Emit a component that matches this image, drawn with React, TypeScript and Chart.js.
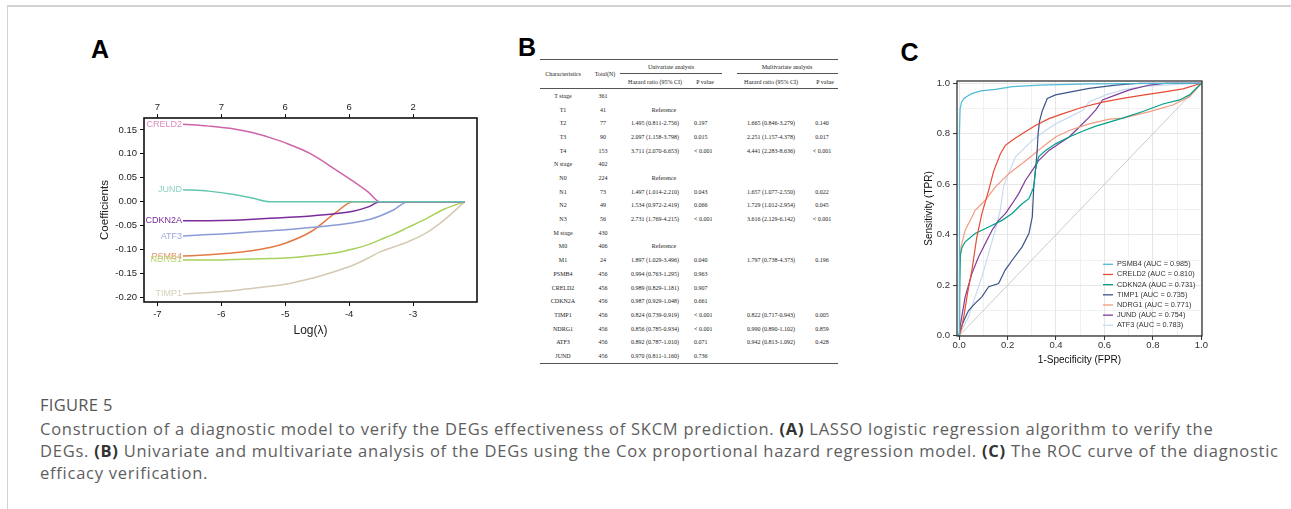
import React, { useEffect, useRef } from 'react';
import { Chart, registerables } from 'chart.js';
Chart.register(...registerables);

const SANS = "'Liberation Sans', Arial, sans-serif";
const SERIF = "'Liberation Serif', 'Times New Roman', serif";
const CAP = "'Open Sans', 'Noto Sans', sans-serif";

// ---------------- Panel A: LASSO coefficient paths ----------------
const lassoLogLambda = [-6.6, -6.2, -5.8, -5.5, -5.24, -5.0, -4.6, -4.2, -3.94, -3.7, -3.52, -3.3, -3.08, -2.8, -2.5, -2.19];
const coefJUND = [0.025, 0.022, 0.015, 0.007, 0, 0, 0, 0, 0, 0, 0, 0, 0, 0, 0, 0];
const coefCRELD2 = [0.162, 0.158, 0.152, 0.144, 0.134, 0.123, 0.100, 0.066, 0.043, 0.020, 0, 0, 0, 0, 0, 0];
const coefCDKN2A = [-0.040, -0.040, -0.039, -0.037, -0.035, -0.033, -0.030, -0.025, -0.020, -0.011, 0, 0, 0, 0, 0, 0];
const coefATF3 = [-0.072, -0.069, -0.066, -0.063, -0.061, -0.059, -0.054, -0.049, -0.044, -0.038, -0.030, -0.017, 0, 0, 0, 0];
const coefPSMB4 = [-0.114, -0.111, -0.107, -0.102, -0.096, -0.087, -0.063, -0.022, 0, 0, 0, 0, 0, 0, 0, 0];
const coefNDRG1 = [-0.122, -0.122, -0.121, -0.120, -0.119, -0.118, -0.113, -0.107, -0.099, -0.090, -0.080, -0.068, -0.054, -0.036, -0.015, 0];
const coefTIMP1 = [-0.193, -0.190, -0.186, -0.181, -0.177, -0.173, -0.161, -0.145, -0.133, -0.118, -0.105, -0.095, -0.084, -0.066, -0.037, 0];
const lassoGenes = ['JUND', 'CRELD2', 'CDKN2A', 'ATF3', 'PSMB4', 'NDRG1', 'TIMP1'];
const lassoCoefs = [coefJUND, coefCRELD2, coefCDKN2A, coefATF3, coefPSMB4, coefNDRG1, coefTIMP1];
const lassoLineColors = ['#62c6b0', '#cf63a9', '#7a2c9c', '#8b9bd6', '#e27a43', '#a8d05a', '#d5c9b2'];
const lassoLabelColors = ['#8ad5c3', '#d98bbf', '#7a2c9c', '#9ba9dc', '#e6996b', '#b7d877', '#d9cfbc'];
const lassoXTicks = [-7, -6, -5, -4, -3];
const lassoTopLabels = ['7', '7', '6', '6', '2'];
const lassoYTicks = [0.15, 0.10, 0.05, 0.0, -0.05, -0.10, -0.15, -0.20];

// ---------------- Panel B: Cox table ----------------
const characteristics = ['T stage', 'T1', 'T2', 'T3', 'T4', 'N stage', 'N0', 'N1', 'N2', 'N3', 'M stage', 'M0', 'M1', 'PSMB4', 'CRELD2', 'CDKN2A', 'TIMP1', 'NDRG1', 'ATF3', 'JUND'];
const totals = ['361', '41', '77', '90', '153', '402', '224', '73', '49', '56', '430', '406', '24', '456', '456', '456', '456', '456', '456', '456'];
const uniHR = ['', 'Reference', '1.495 (0.811-2.756)', '2.097 (1.158-3.798)', '3.711 (2.070-6.653)', '', 'Reference', '1.497 (1.014-2.210)', '1.534 (0.972-2.419)', '2.731 (1.769-4.215)', '', 'Reference', '1.897 (1.029-3.496)', '0.994 (0.763-1.295)', '0.989 (0.829-1.181)', '0.987 (0.929-1.048)', '0.824 (0.739-0.919)', '0.856 (0.785-0.934)', '0.892 (0.787-1.010)', '0.970 (0.811-1.160)'];
const uniP = ['', '', '0.197', '0.015', '< 0.001', '', '', '0.043', '0.066', '< 0.001', '', '', '0.040', '0.963', '0.907', '0.661', '< 0.001', '< 0.001', '0.071', '0.736'];
const multiHR = ['', '', '1.665 (0.846-3.279)', '2.251 (1.157-4.378)', '4.441 (2.283-8.636)', '', '', '1.657 (1.077-2.550)', '1.729 (1.012-2.954)', '3.616 (2.129-6.142)', '', '', '1.797 (0.738-4.373)', '', '', '', '0.822 (0.717-0.943)', '0.990 (0.890-1.102)', '0.942 (0.813-1.092)', ''];
const multiP = ['', '', '0.140', '0.017', '< 0.001', '', '', '0.022', '0.045', '< 0.001', '', '', '0.196', '', '', '', '0.005', '0.859', '0.428', ''];

// ---------------- Panel C: ROC curves ----------------
const rocGenes = ['PSMB4', 'CRELD2', 'CDKN2A', 'TIMP1', 'NDRG1', 'JUND', 'ATF3'];
const rocAUC = ['0.985', '0.810', '0.731', '0.735', '0.771', '0.754', '0.783'];
const rocColors = ['#4DBBD5', '#E64B35', '#00A087', '#3C5488', '#F39B7F', '#7E3B9A', '#C6DBEF'];
const fprPSMB4 = [0, 0.001, 0.002, 0.004, 0.010, 0.020, 0.035, 0.055, 0.090, 0.150, 0.220, 0.330, 0.540, 1.0];
const tprPSMB4 = [0, 0.45, 0.80, 0.90, 0.925, 0.940, 0.950, 0.960, 0.970, 0.976, 0.987, 0.993, 0.998, 1.0];
const fprCRELD2 = [0, 0.010, 0.020, 0.035, 0.053, 0.073, 0.094, 0.122, 0.142, 0.170, 0.191, 0.219, 0.260, 0.315, 0.371, 0.426, 0.509, 0.592, 0.675, 0.758, 0.841, 0.924, 1.0];
const tprCRELD2 = [0, 0.030, 0.080, 0.170, 0.260, 0.390, 0.484, 0.576, 0.650, 0.720, 0.754, 0.774, 0.800, 0.833, 0.860, 0.879, 0.905, 0.925, 0.940, 0.953, 0.965, 0.978, 1.0];
const fprCDKN2A = [0, 0.002, 0.005, 0.012, 0.025, 0.066, 0.122, 0.177, 0.219, 0.260, 0.288, 0.308, 0.315, 0.322, 0.329, 0.357, 0.398, 0.454, 0.509, 0.564, 0.606, 0.675, 0.758, 0.841, 0.910, 0.951, 1.0];
const tprCDKN2A = [0, 0.150, 0.320, 0.350, 0.372, 0.405, 0.431, 0.457, 0.484, 0.523, 0.543, 0.589, 0.655, 0.690, 0.710, 0.734, 0.760, 0.787, 0.810, 0.830, 0.842, 0.862, 0.888, 0.918, 0.934, 0.954, 1.0];
const fprTIMP1 = [0, 0.004, 0.020, 0.039, 0.066, 0.094, 0.122, 0.163, 0.190, 0.219, 0.260, 0.288, 0.302, 0.308, 0.315, 0.322, 0.326, 0.332, 0.343, 0.364, 0.398, 0.467, 0.537, 0.647, 0.744, 1.0];
const tprTIMP1 = [0, 0.022, 0.060, 0.100, 0.128, 0.154, 0.194, 0.207, 0.260, 0.299, 0.352, 0.405, 0.471, 0.589, 0.655, 0.730, 0.800, 0.850, 0.890, 0.940, 0.954, 0.967, 0.980, 0.993, 1.0, 1.0];
const fprNDRG1 = [0, 0.0, 0.003, 0.008, 0.025, 0.053, 0.066, 0.080, 0.108, 0.149, 0.205, 0.260, 0.302, 0.343, 0.398, 0.454, 0.537, 0.620, 0.675, 0.786, 0.882, 0.951, 1.0];
const tprNDRG1 = [0, 0.120, 0.260, 0.352, 0.418, 0.470, 0.497, 0.510, 0.537, 0.589, 0.642, 0.682, 0.714, 0.747, 0.787, 0.813, 0.839, 0.858, 0.862, 0.888, 0.914, 0.947, 1.0];
const fprJUND = [0, 0.004, 0.025, 0.053, 0.080, 0.108, 0.136, 0.163, 0.191, 0.219, 0.246, 0.274, 0.302, 0.329, 0.371, 0.412, 0.454, 0.495, 0.537, 0.564, 0.592, 0.647, 0.703, 0.786, 0.855, 1.0];
const tprJUND = [0, 0.036, 0.154, 0.247, 0.312, 0.365, 0.418, 0.457, 0.484, 0.523, 0.563, 0.616, 0.655, 0.695, 0.734, 0.760, 0.787, 0.826, 0.866, 0.895, 0.934, 0.954, 0.974, 0.993, 1.0, 1.0];
const fprATF3 = [0, 0.011, 0.039, 0.066, 0.094, 0.122, 0.149, 0.170, 0.183, 0.198, 0.205, 0.232, 0.260, 0.302, 0.357, 0.398, 0.454, 0.509, 0.537, 0.606, 0.675, 0.758, 0.841, 1.0];
const tprATF3 = [0, 0.022, 0.075, 0.154, 0.233, 0.326, 0.418, 0.497, 0.589, 0.630, 0.645, 0.708, 0.734, 0.774, 0.813, 0.839, 0.866, 0.892, 0.927, 0.954, 0.974, 0.987, 0.993, 1.0];
const rocFpr = [fprPSMB4, fprCRELD2, fprCDKN2A, fprTIMP1, fprNDRG1, fprJUND, fprATF3];
const rocTpr = [tprPSMB4, tprCRELD2, tprCDKN2A, tprTIMP1, tprNDRG1, tprJUND, tprATF3];
const rocTicks = [0, 0.1, 0.2, 0.3, 0.4, 0.5, 0.6, 0.7, 0.8, 0.9, 1.0];

// ---------------- plugins ----------------
const boxBorder = {
  id: 'boxBorder',
  afterDraw(chart: any, _a: any, opts: any) {
    const { ctx, chartArea } = chart;
    ctx.save();
    ctx.strokeStyle = opts.color || '#000';
    ctx.lineWidth = opts.width || 1;
    ctx.strokeRect(chartArea.left, chartArea.top, chartArea.right - chartArea.left, chartArea.bottom - chartArea.top);
    ctx.restore();
  },
};

const pathLabels = {
  id: 'pathLabels',
  afterDatasetsDraw(chart: any) {
    const { ctx } = chart;
    ctx.save();
    ctx.font = `9px ${SANS}`;
    ctx.textAlign = 'right';
    ctx.textBaseline = 'middle';
    chart.data.datasets.forEach((ds: any, i: number) => {
      const p = chart.getDatasetMeta(i).data[0];
      if (!p) return;
      ctx.fillStyle = ds.labelColor;
      ctx.fillText(ds.label, p.x - 1, p.y);
    });
    ctx.restore();
  },
};

const rocLegend = {
  id: 'rocLegend',
  afterDraw(chart: any) {
    const { ctx, chartArea } = chart;
    ctx.save();
    ctx.font = `7.3px ${SANS}`;
    ctx.textBaseline = 'middle';
    ctx.textAlign = 'left';
    rocGenes.forEach((g, i) => {
      const y = chartArea.bottom - 71.7 + i * 10.17;
      ctx.strokeStyle = rocColors[i];
      ctx.lineWidth = 1.3;
      ctx.beginPath();
      ctx.moveTo(chartArea.right - 99, y);
      ctx.lineTo(chartArea.right - 89, y);
      ctx.stroke();
      ctx.fillStyle = '#333';
      ctx.fillText(`${g} (AUC = ${rocAUC[i]})`, chartArea.right - 85, y);
    });
    ctx.restore();
  },
};

function setTicks(values: number[]) {
  return (scale: any) => {
    scale.ticks = values.map((v) => ({ value: v }));
  };
}

function ChartBox({ config, style }: { config: any; style: React.CSSProperties }) {
  const ref = useRef<HTMLCanvasElement | null>(null);
  useEffect(() => {
    if (!ref.current) return;
    const chart = new Chart(ref.current, config);
    return () => chart.destroy();
  }, []);
  return (
    <div style={{ position: 'absolute', ...style }}>
      <canvas ref={ref} style={{ display: 'block' }} />
    </div>
  );
}

function lassoConfig() {
  return {
    type: 'line',
    data: {
      datasets: lassoGenes.map((g, i) => ({
        label: g,
        labelColor: lassoLabelColors[i],
        data: lassoLogLambda.map((x, j) => ({ x, y: lassoCoefs[i][j] })),
        borderColor: lassoLineColors[i],
        borderWidth: 1.5,
        pointRadius: 0,
        cubicInterpolationMode: 'monotone',
        fill: false,
      })),
    },
    options: {
      animation: false,
      responsive: true,
      maintainAspectRatio: false,
      layout: { padding: { left: 0, right: 13, top: 0, bottom: 0 } },
      plugins: { legend: { display: false }, tooltip: { enabled: false }, boxBorder: { color: '#111', width: 1.6 } },
      scales: {
        x: {
          type: 'linear', position: 'bottom', min: -7.21, max: -2.0,
          afterBuildTicks: setTicks(lassoXTicks),
          afterFit: (s: any) => { s.height = 43; s.paddingLeft = 0; s.paddingRight = 0; },
          grid: { drawOnChartArea: false, drawTicks: true, tickLength: 4, color: '#111', lineWidth: 1 },
          border: { display: false },
          ticks: { color: '#222', font: { family: SANS, size: 9.5 }, padding: 3, autoSkip: false, maxRotation: 0, callback: (v: any) => String(v) },
          title: { display: true, text: 'Log(λ)', color: '#222', font: { family: SANS, size: 12 }, padding: { top: 0, bottom: 7 } },
        },
        xTop: {
          type: 'linear', position: 'top', min: -7.21, max: -2.0,
          afterBuildTicks: setTicks(lassoXTicks),
          afterFit: (s: any) => { s.height = 28; s.paddingLeft = 0; s.paddingRight = 0; },
          grid: { drawOnChartArea: false, drawTicks: true, tickLength: 4, color: '#111', lineWidth: 1 },
          border: { display: false },
          ticks: { color: '#222', font: { family: SANS, size: 9.5 }, padding: 1, autoSkip: false, maxRotation: 0, callback: (_v: any, i: number) => lassoTopLabels[i] },
        },
        y: {
          type: 'linear', position: 'left', min: -0.21, max: 0.175,
          afterBuildTicks: setTicks(lassoYTicks),
          afterFit: (s: any) => { s.width = 64; s.paddingTop = 0; s.paddingBottom = 0; },
          grid: { drawOnChartArea: false, drawTicks: true, tickLength: 4, color: '#111', lineWidth: 1 },
          border: { display: false },
          ticks: { color: '#222', font: { family: SANS, size: 9.5 }, padding: 3, autoSkip: false, callback: (v: any) => Number(v).toFixed(2) },
          title: { display: true, text: 'Coefficients', color: '#222', font: { family: SANS, size: 11.5 }, padding: { top: 18, bottom: 0 } },
        },
      },
    },
    plugins: [boxBorder, pathLabels],
  };
}

function rocConfig() {
  const isMajor = (v: number) => Math.round(v * 10) % 2 === 0;
  const gridOpts = {
    drawOnChartArea: true,
    drawTicks: true,
    tickLength: 4,
    color: '#e6e6e6',
    lineWidth: (c: any) => (c.tick && isMajor(c.tick.value) ? 1.1 : 0.6),
    tickColor: (c: any) => (c.tick && isMajor(c.tick.value) ? '#333' : 'rgba(0,0,0,0)'),
    tickWidth: 1,
  };
  const datasets: any[] = rocGenes.map((g, i) => ({
    label: g,
    data: rocFpr[i].map((x, j) => ({ x, y: rocTpr[i][j] })),
    borderColor: rocColors[i],
    borderWidth: 1.2,
    pointRadius: 0,
    tension: 0,
    fill: false,
  }));
  datasets.push({
    label: 'diag',
    data: [{ x: 0, y: 0 }, { x: 1, y: 1 }],
    borderColor: '#c4c4c4',
    borderWidth: 0.9,
    pointRadius: 0,
    fill: false,
    order: 10,
  });
  return {
    type: 'line',
    data: { datasets },
    options: {
      animation: false,
      responsive: true,
      maintainAspectRatio: false,
      layout: { padding: { left: 0, right: 13, top: 21, bottom: 0 } },
      plugins: { legend: { display: false }, tooltip: { enabled: false }, boxBorder: { color: '#222', width: 1.2 } },
      scales: {
        x: {
          type: 'linear', position: 'bottom', min: -0.0087, max: 1.0024,
          afterBuildTicks: setTicks(rocTicks),
          afterFit: (s: any) => { s.height = 39; s.paddingLeft = 0; s.paddingRight = 0; },
          grid: gridOpts,
          border: { display: false },
          ticks: { color: '#333', font: { family: SANS, size: 9.5 }, padding: 0, autoSkip: false, maxRotation: 0, callback: (v: any) => (isMajor(v) ? Number(v).toFixed(1) : '') },
          title: { display: true, text: '1-Specificity (FPR)', color: '#111', font: { family: SANS, size: 10 }, padding: { top: 0, bottom: 9 } },
        },
        y: {
          type: 'linear', position: 'left', min: -0.001, max: 1.009,
          afterBuildTicks: setTicks(rocTicks),
          afterFit: (s: any) => { s.width = 52; s.paddingTop = 0; s.paddingBottom = 0; },
          grid: gridOpts,
          border: { display: false },
          ticks: { color: '#333', font: { family: SANS, size: 9.5 }, padding: 3, autoSkip: false, callback: (v: any) => (isMajor(v) ? Number(v).toFixed(1) : '') },
          title: { display: true, text: 'Sensitivity (TPR)', color: '#111', font: { family: SANS, size: 10 }, padding: { top: 18, bottom: 0 } },
        },
      },
    },
    plugins: [boxBorder, rocLegend],
  };
}

// table layout helpers (positions only)
const rowY = (i: number) => 96 + i * 13.68;
const tcell = (text: string, x: number, y: number, align: 'center' | 'left' = 'center', key?: string) => (
  <div
    key={key}
    style={{
      position: 'absolute', left: x, top: y, fontFamily: SERIF, fontSize: 6, lineHeight: '7px', color: '#222',
      whiteSpace: 'nowrap', transform: align === 'center' ? 'translate(-50%, -50%)' : 'translate(0, -50%)',
    }}
  >
    {text}
  </div>
);
const rule = (x1: number, x2: number, y: number, key: string) => (
  <div key={key} style={{ position: 'absolute', left: x1, top: y, width: x2 - x1, height: 1, background: '#555' }} />
);

function Table() {
  const cells: React.ReactNode[] = [];
  characteristics.forEach((c, i) => {
    const y = rowY(i);
    cells.push(tcell(c, 563, y, 'center', 'c' + i));
    cells.push(tcell(totals[i], 603, y, 'center', 't' + i));
    if (uniHR[i]) cells.push(tcell(uniHR[i], uniHR[i] === 'Reference' ? 664 : 655, y, 'center', 'uh' + i));
    if (uniP[i]) cells.push(tcell(uniP[i], 694, y, 'left', 'up' + i));
    if (multiHR[i]) cells.push(tcell(multiHR[i], 771, y, 'center', 'mh' + i));
    if (multiP[i]) cells.push(tcell(multiP[i], 822, y, 'center', 'mp' + i));
  });
  return (
    <>
      {rule(540, 838, 59, 'r1')}
      {rule(620, 722, 73, 'r2')}
      {rule(737, 838, 73, 'r3')}
      {rule(540, 838, 88, 'r4')}
      {rule(540, 838, 363, 'r5')}
      {tcell('Characteristics', 563, 73.5, 'center', 'h1')}
      {tcell('Total(N)', 605, 73.5, 'center', 'h2')}
      {tcell('Univariate analysis', 671, 67.3, 'center', 'h3')}
      {tcell('Multivariate analysis', 787, 67.3, 'center', 'h4')}
      {tcell('Hazard ratio (95% CI)', 655, 81.7, 'center', 'h5')}
      {tcell('P value', 705, 81.7, 'center', 'h6')}
      {tcell('Hazard ratio (95% CI)', 771, 81.7, 'center', 'h7')}
      {tcell('P value', 825, 81.7, 'center', 'h8')}
      {cells}
    </>
  );
}

const panelLetter = (t: string, left: number, top: number) => (
  <div style={{ position: 'absolute', left, top, fontFamily: SANS, fontWeight: 700, fontSize: 25, lineHeight: '25px', color: '#000' }}>{t}</div>
);

export default function App() {
  return (
    <div style={{ position: 'fixed', left: 0, top: 0, width: 1291, height: 509, background: '#fff', overflow: 'hidden' }}>
      <div style={{ position: 'absolute', left: 7, top: 5, width: 1284, height: 1.5, background: '#d2d2d2' }} />
      <div style={{ position: 'absolute', left: 7, top: 5, width: 1, height: 504, background: '#d2d2d2' }} />
      {panelLetter('A', 91, 36.7)}
      {panelLetter('B', 518, 35)}
      {panelLetter('C', 900.5, 40)}
      <ChartBox config={lassoConfig()} style={{ left: 80, top: 90, width: 410, height: 255 }} />
      <Table />
      <ChartBox config={rocConfig()} style={{ left: 905, top: 60, width: 310, height: 315 }} />
      <div style={{ position: 'absolute', left: 40, top: 397, fontFamily: CAP, fontSize: 16.5, lineHeight: '16px', letterSpacing: 0.3, color: '#555', whiteSpace: 'nowrap' }}>FIGURE 5</div>
      <div style={{ position: 'absolute', left: 40, top: 418, fontFamily: CAP, fontSize: 16.5, lineHeight: '22px', letterSpacing: 0.75, color: '#5e5e5e', whiteSpace: 'nowrap' }}>
        Construction of a diagnostic model to verify the DEGs effectiveness of SKCM prediction. <b style={{ color: '#333' }}>(A)</b> LASSO logistic regression algorithm to verify the
        <br />
        DEGs. <b style={{ color: '#333' }}>(B)</b> Univariate and multivariate analysis of the DEGs using the Cox proportional hazard regression model. <b style={{ color: '#333' }}>(C)</b> The ROC curve of the diagnostic
        <br />
        efficacy verification.
      </div>
    </div>
  );
}
